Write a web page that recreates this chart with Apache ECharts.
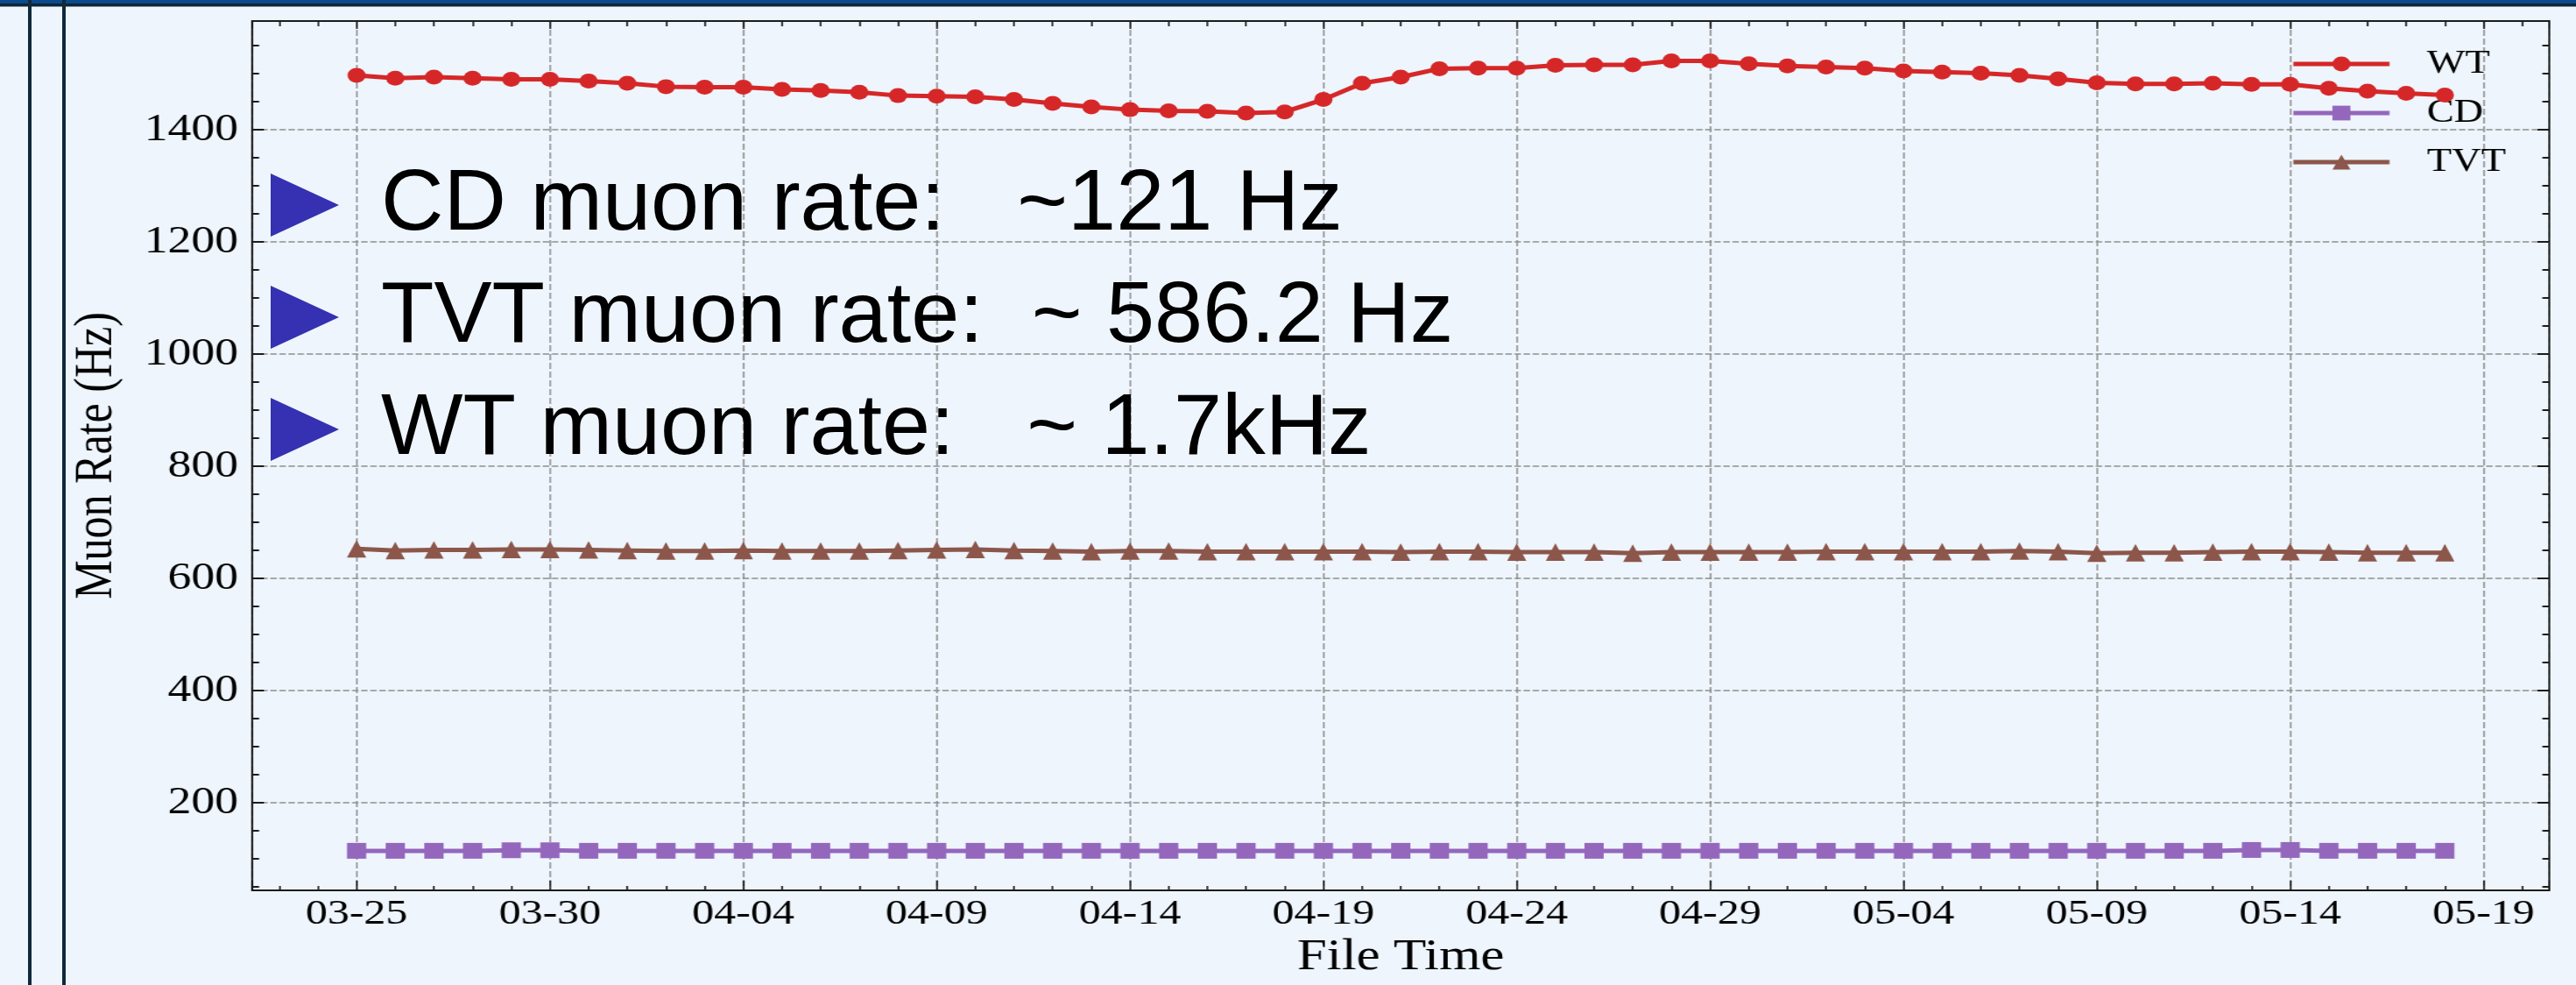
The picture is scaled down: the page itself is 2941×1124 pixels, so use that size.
<!DOCTYPE html>
<html>
<head>
<meta charset="utf-8">
<title>Muon Rate</title>
<script src="https://cdn.jsdelivr.net/npm/echarts@6.0.0/dist/echarts.min.js"></script>
<style>
  html, body { margin: 0; padding: 0; background: #EEF5FC; overflow: hidden; }
  /* the source plot is stretched sideways on the slide, so draw narrow and stretch */
  #myChart { position: absolute; left: 0; top: 0; width: 2411px; height: 1124px;
             transform: scaleX(1.2198); transform-origin: 0 0; }
  #myNotes { position: absolute; left: 0; top: 0; width: 2941px; height: 1124px; pointer-events: none; }
</style>
</head>
<body>
<div id="myChart"></div>
<div id="myNotes"></div>
<script>
var fileDates = ['03-25', '03-26', '03-27', '03-28', '03-29', '03-30', '03-31',
    '04-01', '04-02', '04-03', '04-04', '04-05', '04-06', '04-07', '04-08', '04-09', '04-10',
    '04-11', '04-12', '04-13', '04-14', '04-15', '04-16', '04-17', '04-18', '04-19', '04-20',
    '04-21', '04-22', '04-23', '04-24', '04-25', '04-26', '04-27', '04-28', '04-29', '04-30',
    '05-01', '05-02', '05-03', '05-04', '05-05', '05-06', '05-07', '05-08', '05-09', '05-10',
    '05-11', '05-12', '05-13', '05-14', '05-15', '05-16', '05-17', '05-18'];
var xTickLabels = ['03-25', '03-30', '04-04', '04-09', '04-14', '04-19',
    '04-24', '04-29', '05-04', '05-09', '05-14', '05-19'];
var seriesNames = ['WT', 'CD', 'TVT'];
var wt = [1497, 1492, 1494, 1492, 1490, 1490, 1487, 1483, 1477, 1476,
    1476, 1472, 1470, 1467, 1461, 1460, 1459, 1454, 1447, 1441,
    1436, 1434, 1433, 1430, 1432, 1454, 1483, 1494, 1509, 1510,
    1510, 1515, 1516, 1516, 1523, 1523, 1518, 1514, 1512, 1510,
    1505, 1503, 1501, 1497, 1491, 1484, 1482, 1482, 1483, 1481,
    1481, 1474, 1469, 1465, 1462];
var cd = [114.5, 114.5, 114.5, 114.5, 115.5, 115.5, 114.5, 114.5, 114.5, 114.5,
    114.5, 114.5, 114.5, 114.5, 114.5, 114.5, 114.5, 114.5, 114.5, 114.5,
    114.5, 114.5, 114.5, 114.5, 114.5, 114.5, 114.5, 114.5, 114.5, 114.5,
    114.5, 114.5, 114.5, 114.5, 114.5, 114.5, 114.5, 114.5, 114.5, 114.5,
    114.5, 114.5, 114.5, 114.5, 114.5, 114.5, 114.5, 114.5, 114.5, 116,
    116, 114.5, 114.5, 114.5, 114.5];
var tvt = [653, 650, 651, 651, 652, 652, 651, 650, 649, 649,
    650, 649, 649, 649, 650, 651, 652, 650, 649, 648,
    649, 649, 648, 648, 648, 648, 648, 647, 648, 648,
    647, 647, 647, 645, 647, 647, 647, 647, 648, 648,
    648, 648, 648, 649, 648, 645, 646, 646, 647, 648,
    648, 647, 646, 646, 646];
var notes = ['CD muon rate:   ~121 Hz', 'TVT muon rate:  ~ 586.2 Hz', 'WT muon rate:   ~ 1.7kHz'];

var ink = '#1c1c1c';
var serif = 'Liberation Serif';

function pairs(vals) {
    return fileDates.map(function (d, i) { return [i, vals[i]]; });
}

function xLabel(v) {
    var k = v / 5;
    if (Math.abs(k - Math.round(k)) > 1e-6) return '';
    return xTickLabels[Math.round(k)] || '';
}

function yLabel(v) {
    return (Math.abs(v % 200) < 1e-6) ? String(v) : '';
}

function xAxisAt(pos, main) {
    return {
        type: 'value', position: pos, min: -2.7, max: 56.7,
        splitNumber: 12, minInterval: 5, maxInterval: 5,
        axisLine: { show: true, onZero: false, lineStyle: { color: ink, width: 2 } },
        axisTick: { show: true, inside: true, length: main ? 11 : 9, lineStyle: { color: ink, width: 1.6 } },
        minorTick: { show: true, splitNumber: 5, length: main ? 5 : 6, lineStyle: { color: ink, width: 1.6 } },
        axisLabel: main ? { show: true, formatter: xLabel, margin: 7, color: '#000', fontFamily: serif, fontSize: 41 } : { show: false },
        splitLine: { show: main, lineStyle: { color: '#8f8f8f', width: 1.5, type: [7, 3] } },
        name: main ? 'File Time' : '', nameLocation: 'middle', nameGap: 52, nameMoveOverlap: false,
        nameTextStyle: { color: '#000', fontFamily: serif, fontSize: 50 }
    };
}

function yAxisAt(pos, main) {
    return {
        type: 'value', position: pos, min: 44, max: 1594,
        splitNumber: 8, minInterval: 200, maxInterval: 200,
        axisLine: { show: true, onZero: false, lineStyle: { color: ink, width: 1.8 } },
        axisTick: { show: true, inside: true, length: 11, lineStyle: { color: ink, width: 2 } },
        minorTick: { show: true, splitNumber: 4, length: 6.5, lineStyle: { color: ink, width: 2 } },
        axisLabel: main ? { show: true, formatter: yLabel, margin: 13, color: '#000', fontFamily: serif, fontSize: 44 } : { show: false },
        splitLine: { show: main, lineStyle: { color: '#8f8f8f', width: 1.6, type: [6, 2.5] } },
        name: main ? 'Muon Rate (Hz)' : '', nameLocation: 'middle', nameGap: 120, nameMoveOverlap: false,
        nameTextStyle: { color: '#000', fontFamily: serif, fontSize: 50 }
    };
}

function lineSeries(name, vals, color, symbol, size, z) {
    return {
        name: name, type: 'line', data: pairs(vals),
        symbol: symbol, symbolSize: size, showAllSymbol: true,
        color: color, itemStyle: { color: color },
        lineStyle: { color: color, width: 5 },
        emphasis: { disabled: true }, z: z
    };
}

var dom = document.getElementById('myChart');
var myChart = echarts.init(dom);
var option = {
    animation: false,
    backgroundColor: '#EEF5FC',
    grid: { left: 236, right: 25, top: 24, bottom: 108, containLabel: false, outerBoundsMode: 'none' },
    legend: {
        data: seriesNames, orient: 'vertical', left: 2144, top: 53, padding: 0,
        itemWidth: 90, itemHeight: 21, itemGap: 16,
        lineStyle: { width: 5 },
        textStyle: { color: '#000', fontFamily: serif, fontSize: 38, lineHeight: 40, padding: [0, 0, 0, 30] }
    },
    xAxis: [xAxisAt('bottom', true), xAxisAt('top', false)],
    yAxis: [yAxisAt('left', true), yAxisAt('right', false)],
    series: [
        lineSeries(seriesNames[0], wt, '#D62728', 'circle', 17, 4),
        lineSeries(seriesNames[1], cd, '#9467BD', 'rect', 18, 3),
        lineSeries(seriesNames[2], tvt, '#8C564B', 'triangle', [18, 20], 3)
    ]
};
myChart.setOption(option, true);

// slide decoration and the overlaid bullet text (not stretched)
var notesDom = document.getElementById('myNotes');
var notesChart = echarts.init(notesDom);
var items = [
    { type: 'rect', shape: { x: 0, y: 0, width: 2941, height: 4 }, style: { fill: '#0B4A8C' } },
    { type: 'rect', shape: { x: 0, y: 4, width: 2941, height: 3.5 }, style: { fill: '#0C2435' } },
    { type: 'rect', shape: { x: 32, y: 0, width: 4, height: 1124 }, style: { fill: '#10293B' } },
    { type: 'rect', shape: { x: 71, y: 0, width: 4, height: 1124 }, style: { fill: '#10293B' } }
];
notes.forEach(function (t, i) {
    var cy = 234 + i * 128;
    items.push({ type: 'polygon', shape: { points: [[309, cy - 36], [387, cy], [309, cy + 36]] },
        style: { fill: '#3531B2' } });
    items.push({ type: 'text', x: 435, y: cy + 1,
        style: { text: t, fill: '#000', fontFamily: 'Liberation Sans', fontSize: 99,
                 align: 'left', verticalAlign: 'middle' } });
});
notesChart.setOption({ backgroundColor: 'transparent', graphic: { elements: items } });
</script>
</body>
</html>
